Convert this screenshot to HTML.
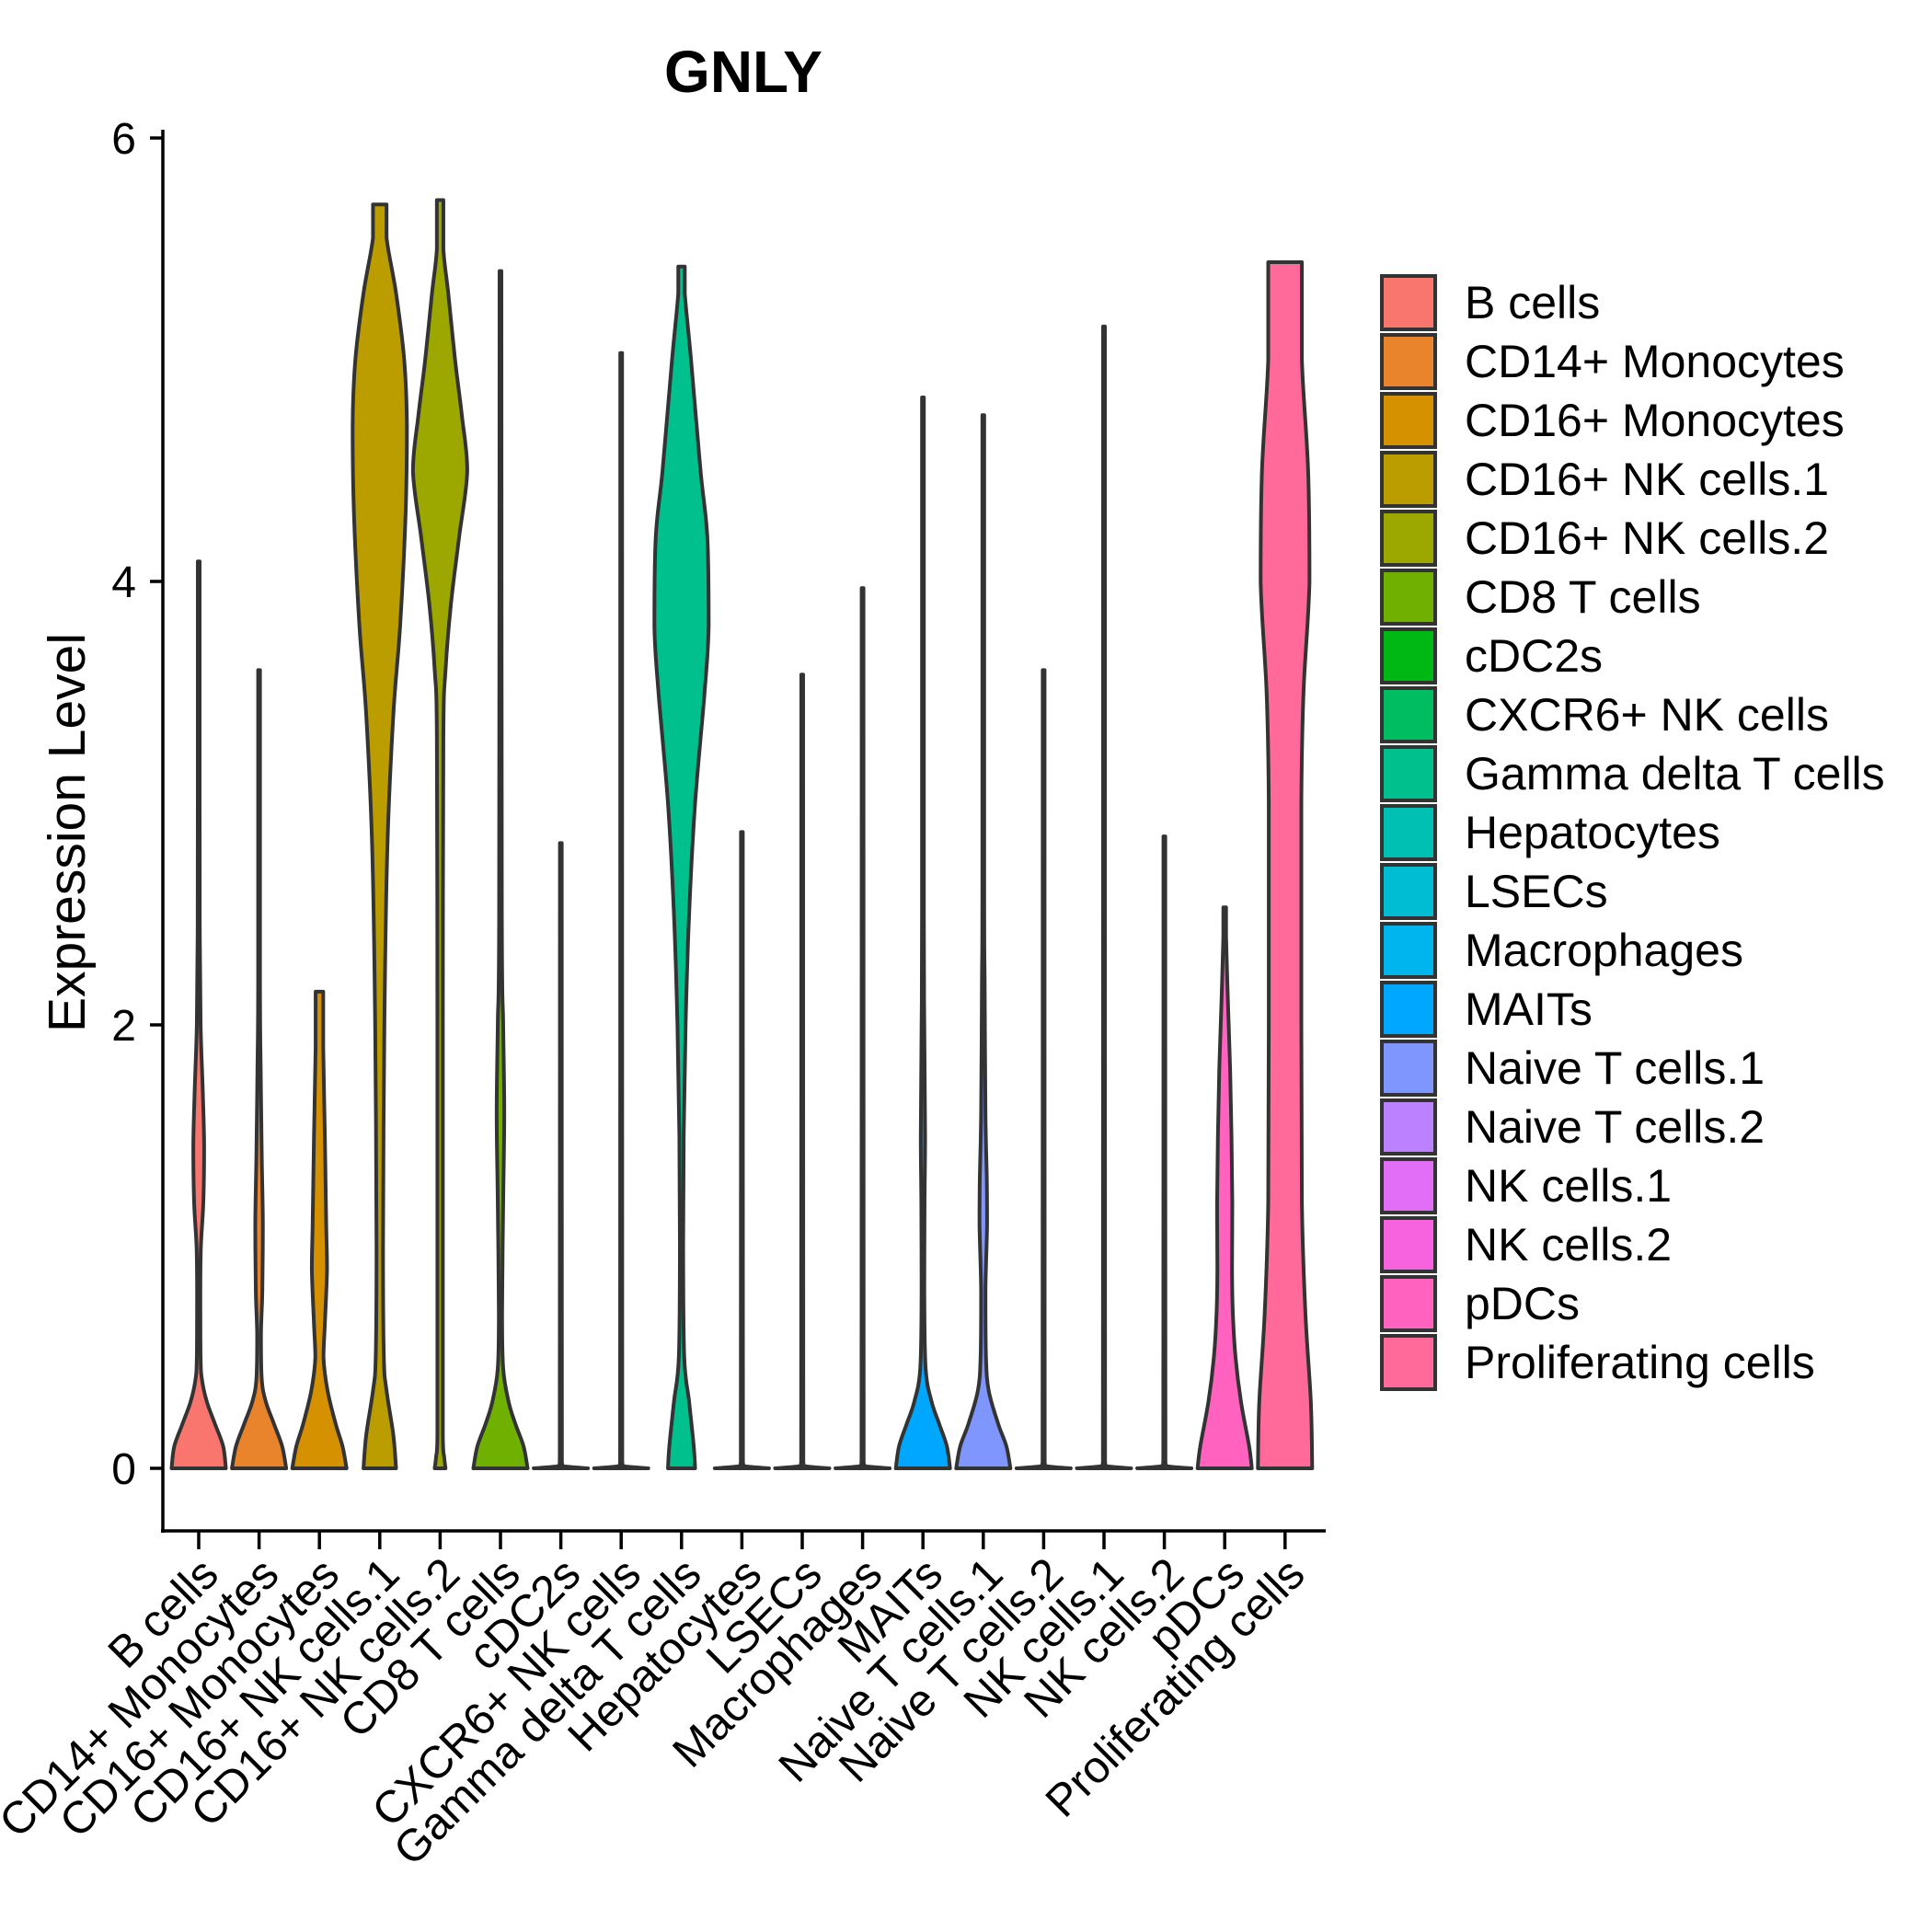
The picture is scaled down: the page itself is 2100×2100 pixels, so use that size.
<!DOCTYPE html>
<html><head><meta charset="utf-8"><style>
html,body{margin:0;padding:0;background:#fff}
svg{display:block}
text{font-family:"Liberation Sans",Arial,sans-serif;fill:#000}
</style></head><body>
<svg id="chart" width="2100" height="2100" viewBox="0 0 2100 2100" xmlns="http://www.w3.org/2000/svg">
<text x="808" y="100" font-size="64" font-weight="bold" text-anchor="middle">GNLY</text>
<text transform="translate(92,905) rotate(-90)" font-size="57" text-anchor="middle">Expression Level</text>
<g id="plot"></g>
<g id="legend"></g>
</svg>
<script>
const categories = ["B cells","CD14+ Monocytes","CD16+ Monocytes","CD16+ NK cells.1","CD16+ NK cells.2","CD8 T cells","cDC2s","CXCR6+ NK cells","Gamma delta T cells","Hepatocytes","LSECs","Macrophages","MAITs","Naive T cells.1","Naive T cells.2","NK cells.1","NK cells.2","pDCs","Proliferating cells"];
const maxValues = [4.09,3.6,2.15,5.7,5.72,5.4,2.82,5.03,5.42,2.87,3.58,3.97,4.83,4.75,3.6,5.15,2.85,2.53,5.44];
const yTicks = [0,2,4,6];
// density profiles: [expression value, relative half-width]
const profiles = [
 [[0,1],[0.1,0.9],[0.2,0.6],[0.3,0.3],[0.4,0.12],[0.5,0.07],[0.8,0.06],[1.0,0.08],[1.2,0.17],[1.45,0.2],[1.7,0.15],[2.0,0.07],[2.4,0.04],[3,0.03]],
 [[0,1],[0.1,0.85],[0.2,0.55],[0.3,0.25],[0.4,0.1],[0.6,0.07],[0.8,0.12],[1.1,0.14],[1.4,0.1],[1.8,0.06],[2.2,0.03]],
 [[0,1],[0.1,0.85],[0.2,0.6],[0.35,0.3],[0.5,0.15],[0.65,0.2],[0.9,0.28],[1.1,0.25],[1.5,0.2],[1.9,0.14],[2.15,0.12]],
 [[0,0.6],[0.15,0.5],[0.35,0.25],[0.5,0.15],[1,0.12],[2,0.17],[2.8,0.28],[3.4,0.5],[3.8,0.75],[4.3,0.95],[4.7,1],[5.0,0.9],[5.3,0.6],[5.55,0.25],[5.7,0.08]],
 [[0,0.2],[0.05,0.15],[0.15,0.1],[1,0.1],[2,0.1],[3.3,0.12],[3.6,0.2],[3.9,0.4],[4.2,0.7],[4.5,1],[4.75,0.8],[5.0,0.55],[5.3,0.3],[5.5,0.12],[5.72,0.06]],
 [[0,1],[0.1,0.85],[0.2,0.55],[0.3,0.3],[0.45,0.1],[0.7,0.06],[1.2,0.1],[1.6,0.14],[2.0,0.1],[2.5,0.05]],
 [[0,1],[0.01,0.1],[0.03,0.04]],
 [[0,1],[0.01,0.1],[0.03,0.04]],
 [[0,0.5],[0.1,0.45],[0.3,0.28],[0.5,0.1],[1,0.06],[1.5,0.08],[2,0.15],[2.5,0.28],[3,0.5],[3.5,0.85],[3.8,1],[4.2,0.95],[4.5,0.7],[5.0,0.35],[5.3,0.12],[5.42,0.05]],
 [[0,1],[0.01,0.1],[0.03,0.04]],
 [[0,1],[0.01,0.1],[0.03,0.04]],
 [[0,1],[0.01,0.1],[0.03,0.04]],
 [[0,1],[0.1,0.88],[0.2,0.6],[0.3,0.32],[0.45,0.1],[0.8,0.05],[1.2,0.06],[1.5,0.08],[2,0.05],[2.5,0.03]],
 [[0,1],[0.1,0.85],[0.2,0.55],[0.35,0.2],[0.5,0.1],[0.8,0.08],[1.1,0.14],[1.3,0.13],[1.6,0.08],[2.2,0.05],[2.6,0.03]],
 [[0,1],[0.01,0.1],[0.03,0.04]],
 [[0,1],[0.01,0.1],[0.03,0.04]],
 [[0,1],[0.01,0.1],[0.03,0.04]],
 [[0,1],[0.1,0.9],[0.3,0.6],[0.5,0.4],[0.7,0.3],[0.9,0.27],[1.2,0.28],[1.5,0.25],[1.8,0.2],[2.1,0.12],[2.4,0.05],[2.53,0.04]],
 [[0,1],[0.3,0.95],[0.7,0.75],[1.2,0.62],[2,0.6],[3,0.6],[3.5,0.68],[4,0.9],[4.5,0.85],[5,0.62],[5.44,0.38]]
];

const NS="http://www.w3.org/2000/svg";
const X0=216, DX=65.6, Y0=1596, PX_PER_UNIT=241, HALF=29.5;
const xScale=i=>X0+DX*i;
const yScale=v=>Y0-v*PX_PER_UNIT;
function hcl(h,c,l){
 const hr=h*Math.PI/180,u=c*Math.cos(hr),v=c*Math.sin(hr);
 const un=0.19783,vn=0.46832;
 const Y=l>8?Math.pow((l+16)/116,3):l/903.3;
 const up=u/(13*l)+un,vp=v/(13*l)+vn;
 const X=Y*9*up/(4*vp),Z=Y*(12-3*up-20*vp)/(4*vp);
 let r=3.2406*X-1.5372*Y-0.4986*Z,g=-0.9689*X+1.8758*Y+0.0415*Z,b=0.0557*X-0.2040*Y+1.0570*Z;
 const f=t=>{t=t<=0.0031308?12.92*t:1.055*Math.pow(t,1/2.4)-0.055;return Math.round(Math.max(0,Math.min(1,t))*255);};
 return `rgb(${f(r)},${f(g)},${f(b)})`;
}
const n=categories.length;
const colors=categories.map((c,i)=>hcl(15+360*i/n,100,65));
function el(tag,attrs,parent){const e=document.createElementNS(NS,tag);for(const k in attrs)e.setAttribute(k,attrs[k]);parent.appendChild(e);return e;}
const clamp=(v,a,b)=>Math.max(Math.min(a,b),Math.min(Math.max(a,b),v));
function smooth(pts){
 let d=`M${pts[0][0]},${pts[0][1]}`;
 for(let i=0;i<pts.length-1;i++){
  const p0=pts[Math.max(0,i-1)],p1=pts[i],p2=pts[i+1],p3=pts[Math.min(pts.length-1,i+2)];
  const c1x=clamp(p1[0]+(p2[0]-p0[0])/6,p1[0],p2[0]),c1y=clamp(p1[1]+(p2[1]-p0[1])/6,p1[1],p2[1]);
  const c2x=clamp(p2[0]-(p3[0]-p1[0])/6,p1[0],p2[0]),c2y=clamp(p2[1]-(p3[1]-p1[1])/6,p1[1],p2[1]);
  d+=` C${c1x},${c1y} ${c2x},${c2y} ${p2[0]},${p2[1]}`;
 }
 return d;
}
const plot=document.getElementById('plot');
categories.forEach((cat,i)=>{
 const cx=xScale(i);
 const prof=profiles[i].filter(p=>p[0]<maxValues[i]);
 const last=prof[prof.length-1];
 prof.push([maxValues[i],(maxValues[i]-last[0]<0.5?last[1]:0.03)]);
 const right=prof.map(p=>[cx+Math.max(p[1]*HALF,1),yScale(p[0])]);
 const left=prof.slice().reverse().map(p=>[cx-Math.max(p[1]*HALF,1),yScale(p[0])]);
 const d=smooth(right)+` L${left[0][0]},${left[0][1]} `+smooth(left).replace(/^M[^C]*/,'')+' Z';
 const path=el('path',{d:d,fill:colors[i],stroke:'#333','stroke-width':4,'stroke-linejoin':'round'},plot);
 
 
 const t=el('line',{x1:cx,x2:cx,y1:1664,y2:1684,stroke:'#000','stroke-width':3.5},plot);
 
 
 const lbl=el('text',{transform:`translate(${cx+24},${1714}) rotate(-45)`,'font-size':49,'text-anchor':'end'},plot);
 lbl.textContent=cat;
 
 
});
const ya=el('line',{x1:177,x2:177,y1:141,y2:1666,stroke:'#000','stroke-width':3.5},plot);


const xa=el('line',{x1:175,x2:1441,y1:1664,y2:1664,stroke:'#000','stroke-width':3.5},plot);


yTicks.forEach(v=>{
 const y=yScale(v);
 const tk=el('line',{x1:163,x2:177,y1:y,y2:y,stroke:'#000','stroke-width':3.5},plot);
 
 
 const tl=el('text',{x:148,y:y+17,'font-size':48,'text-anchor':'end'},plot);
 tl.textContent=String(v);
 
 
});
const leg=document.getElementById('legend');
categories.forEach((cat,i)=>{
 const y=298+i*64;
 const g=el('g',{},leg);
 
 
 el('rect',{x:1502,y:y+2,width:58,height:58,fill:colors[i],stroke:'#333','stroke-width':4},g);
 const tx=el('text',{x:1592,y:y+48,'font-size':50},g);
 tx.textContent=cat;
});
</script>
</body></html>
